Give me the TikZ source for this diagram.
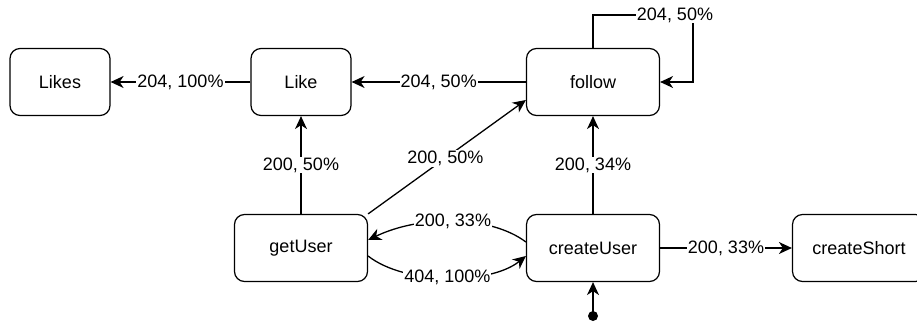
\documentclass[tikz,border=0pt]{standalone}
\usepackage{fontspec}
\setmainfont{Liberation Sans}
\usetikzlibrary{arrows.meta,calc}
\begin{document}
\begin{tikzpicture}[x=1pt,y=-1pt,
  every node/.style={font=\fontsize{18}{22}\selectfont},
  state/.style={draw,line width=1.2pt,rounded corners=10pt,minimum height=67pt,inner sep=0pt},
  narrow/.style={state,minimum width=100pt},
  wide/.style={state,minimum width=133pt},
  flow/.style={line width=1.3pt,-{Stealth[length=13pt,width=12pt,inset=4pt]}},
  lbl/.style={fill=white,inner sep=1pt}]
\useasboundingbox (0,0) rectangle (917,324);
\clip (0,0) rectangle (917,324);

% states
\node[narrow] (likes) at (60,82) {Likes};
\node[narrow] (like) at (301,82) {Like};
\node[wide] (follow) at (593,82) {follow};
\node[wide] (getuser) at (301,248) {getUser};
\node[wide] (createuser) at (593,248) {createUser};
\node[wide] (createshort) at (859,248) {createShort};

% entry point
\coordinate (startpt) at (593,316);
\fill (startpt) circle (5pt);
\draw[flow] (startpt) -- (createuser.south);

% transitions
\draw[flow] (like) -- node[lbl]{204, 100\%} (likes);
\draw[flow] (follow) -- node[lbl]{204, 50\%} (like);
\draw[flow] (getuser) -- node[lbl]{200, 50\%} (like);
\draw[flow] (createuser) -- node[lbl]{200, 34\%} (follow);
\draw[flow] (createuser) -- node[lbl]{200, 33\%} (createshort);
\draw[flow] (getuser.north east) -- node[lbl,pos=0.49]{200, 50\%} ($(follow.west)+(0,18)$);

\draw[flow] ($(createuser.west)+(0,-6)$) .. controls (490,215) and (420,215) ..
  node[lbl,pos=0.5]{200, 33\%} ($(getuser.east)+(0,-8)$);
\draw[flow] ($(getuser.east)+(0,8)$) .. controls (405,285) and (490,285) ..
  node[lbl,pos=0.5]{404, 100\%} ($(createuser.west)+(0,8)$);

% self loop on follow
\coordinate (loopa) at (593,15);
\coordinate (loopb) at (693,15);
\draw[flow] (follow.north) -- (loopa) -- node[lbl,pos=0.82]{204, 50\%} (loopb) |- (follow.east);
\end{tikzpicture}
\end{document}
